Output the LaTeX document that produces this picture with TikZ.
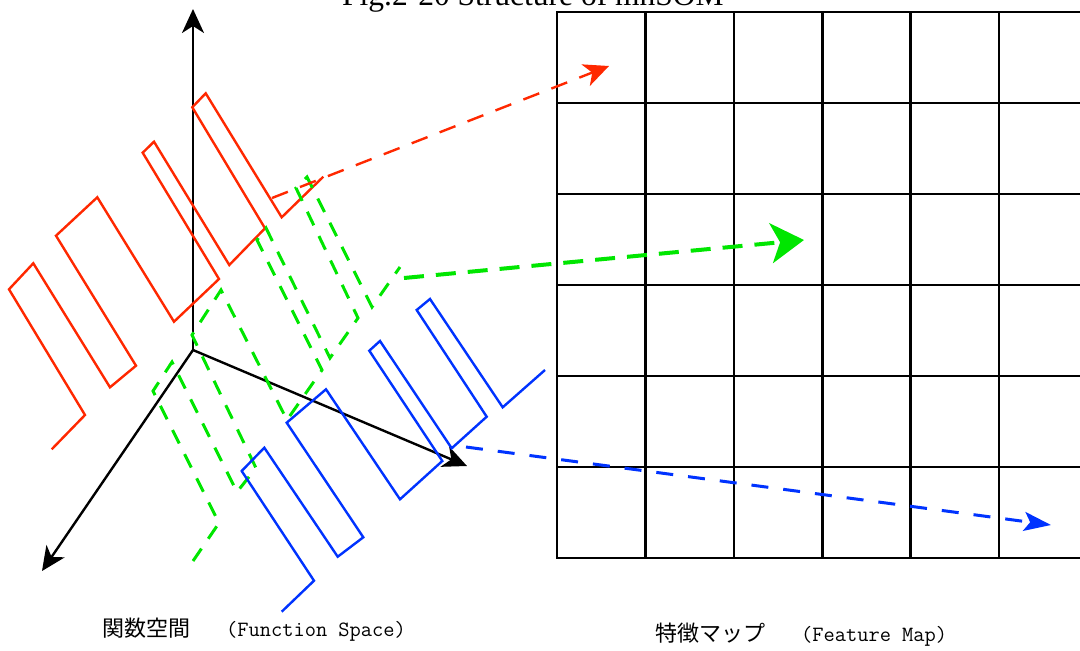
\documentclass[tikz,border=0pt]{standalone}
\usepackage{fontspec}
\newfontfamily\cjkfont{Noto Sans CJK JP}
\newfontfamily\timesfont{Liberation Serif}
\usetikzlibrary{arrows.meta}
\definecolor{curvered}{RGB}{255,40,0}
\definecolor{curvegreen}{RGB}{0,230,0}
\definecolor{curveblue}{RGB}{0,51,255}

\begin{document}
\begin{tikzpicture}[x=1pt, y=-1pt,
    axisarrow/.style={line width=2.4pt, -{Stealth[length=24pt,width=22pt,inset=7pt]}},
    curve/.style={line width=2.4pt},
    mapline/.style={line width=2.6pt, line cap=rect},
    spacelabel/.style={inner sep=0pt, anchor=base west, font=\fontsize{22}{26}\selectfont}]
    \useasboundingbox (0,0) rectangle (1080,651);

    % Title, cut at the top edge
    \node[inner sep=0pt, anchor=base west, font=\timesfont\fontsize{31.5}{36}\selectfont] (title) at (342,5) {Fig.2-20 Structure of mnSOM};

    % Axes of the function space
    \coordinate (o) at (193,350);
    \coordinate (up) at (193,9);
    \coordinate (left) at (42,571);
    \coordinate (right) at (467,466);
    \draw[axisarrow] (o) -- (up);
    \draw[axisarrow] (o) -- (left);
    \draw[axisarrow] (o) -- (right);

    % Red function
    \draw[curve, curvered] (51.7,449.3) -- (85,415) -- (9,289.3) -- (33.3,263.3) -- (110,387.3)
        -- (136,365.7) -- (56,235.7) -- (97.3,197.3) -- (174,321.7) -- (219,279) -- (142.7,152.7)
        -- (154,141.7) -- (229.3,265) -- (265,228.3) -- (192.3,107.3) -- (205.7,93.3)
        -- (281.7,217.3) -- (323.3,176.7);

    % Green function (dashed)
    \draw[curve, curvegreen, line width=3pt, dash pattern=on 15pt off 12pt]
        (193,561) -- (219,523) -- (153,391) -- (172,362) -- (237,492) -- (256,468) -- (192,335)
        -- (221,290) -- (287,420) -- (322,370) -- (257,240) -- (266,228) -- (330,358) -- (358,318)
        -- (296,188) -- (307,177) -- (372,307) -- (400,267);

    % Blue function
    \draw[curve, curveblue] (281.7,611.7) -- (314,580.7) -- (241.7,471) -- (264.3,447.7)
        -- (337.7,556.7) -- (363.3,537.3) -- (286.7,422.7) -- (326,389.3) -- (400,499.3)
        -- (442.3,461) -- (369.3,350.7) -- (380,341) -- (451.7,448.3) -- (486.7,416.7)
        -- (416.7,310) -- (430,299) -- (502.7,407.3) -- (545,370);

    % Feature map grid
    \foreach \i in {0,...,5}
        \draw[mapline] ({557+88.4*\i},12) -- ({557+88.4*\i},558);
    \foreach \j in {0,...,6}
        \draw[mapline] (557,{12+91*\j}) -- (1080,{12+91*\j});

    % Mapping arrows
    \coordinate (redfrom) at (272,198);
    \coordinate (redto) at (609,66);
    \coordinate (greenfrom) at (404,278);
    \coordinate (greento) at (804,240);
    \coordinate (bluefrom) at (466,447);
    \coordinate (blueto) at (1051,525);
    \draw[curvered, line width=2.4pt, dash pattern=on 17pt off 13pt,
        -{Stealth[length=25pt,width=23pt,inset=7pt]}] (redfrom) -- (redto);
    \draw[curvegreen, line width=4pt, dash pattern=on 20pt off 12pt,
        -{Stealth[length=33pt,width=40pt,inset=9pt]}] (greenfrom) -- (greento);
    \draw[curveblue, line width=3pt, dash pattern=on 17pt off 15pt,
        -{Stealth[length=27pt,width=19pt,inset=6pt]}] (bluefrom) -- (blueto);

    % Labels
    \node[spacelabel] (fspace) at (102,636) {{\cjkfont 関数空間}\hspace{36pt}{\ttfamily\fontsize{21.8}{26}\selectfont (Function Space)}};
    \node[spacelabel] (fmap) at (655,641) {{\cjkfont 特徴マップ}\hspace{36pt}{\ttfamily\fontsize{21.8}{26}\selectfont (Feature Map)}};
\end{tikzpicture}
\end{document}
